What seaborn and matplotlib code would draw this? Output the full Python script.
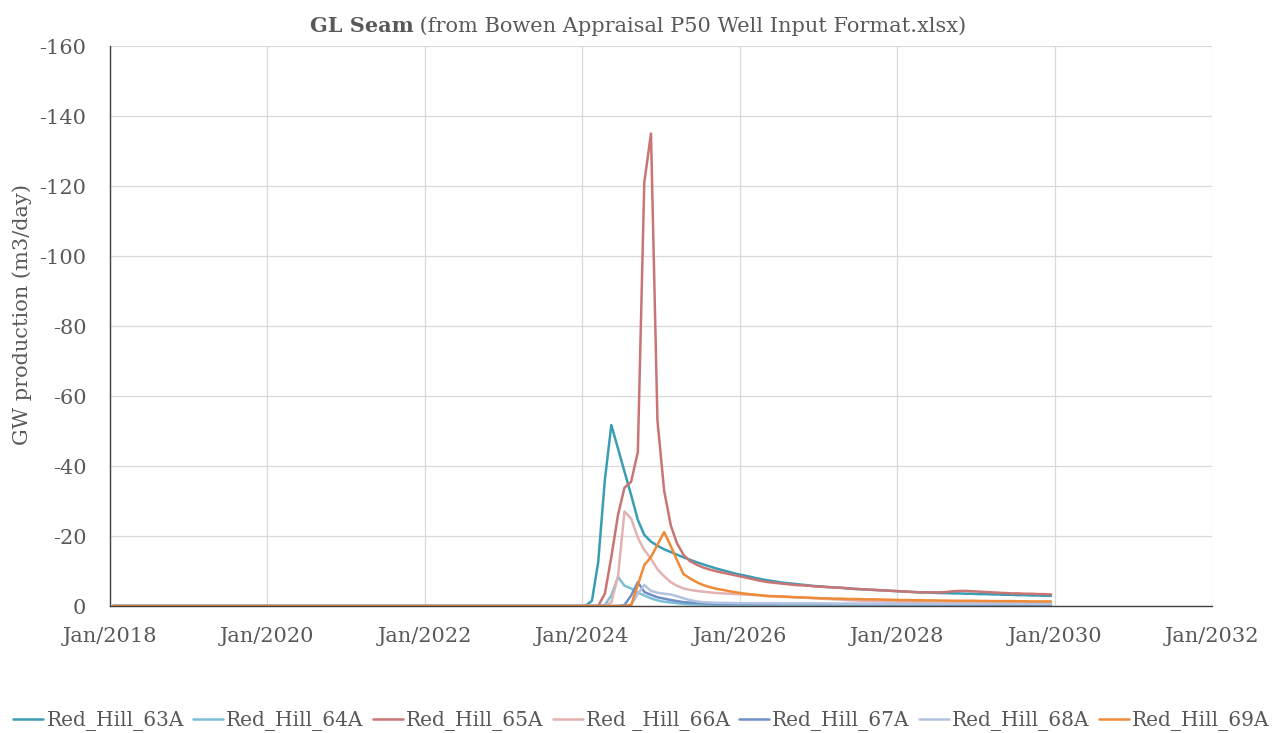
import matplotlib
matplotlib.use("Agg")
import matplotlib.pyplot as plt
import matplotlib.dates as mdates
import numpy as np
import pandas as pd
import seaborn as sns

# Monthly groundwater production (m3/day, negative = extraction), Jan 2024 - Dec 2029
wells = ["Red_Hill_63A", "Red_Hill_64A", "Red_Hill_65A", "Red _Hill_66A",
         "Red_Hill_67A", "Red_Hill_68A", "Red_Hill_69A"]

rh_63a = [0, 1.5, 12.5, 36, 51.7, 45, 38.4, 31.7, 24.6, 20.3, 18.4, 17.2,
          16.2, 15.4, 14.7, 13.9, 13.2, 12.5, 11.9, 11.3, 10.7, 10.2, 9.7, 9.2,
          8.8, 8.4, 8.0, 7.6, 7.3, 7.0, 6.7, 6.5, 6.3, 6.1, 5.9, 5.7,
          5.6, 5.4, 5.3, 5.2, 5.0, 4.9, 4.8, 4.7, 4.6, 4.5, 4.4, 4.3,
          4.2, 4.1, 4.0, 3.9, 3.9, 3.8, 3.7, 3.7, 3.6, 3.6, 3.5, 3.5,
          3.4, 3.4, 3.3, 3.3, 3.2, 3.2, 3.1, 3.1, 3.0, 3.0, 2.9, 2.9]

rh_64a = [0, 0, 0, 0.3, 3.0, 8.3, 5.8, 5.0, 3.8, 3.0, 2.2, 1.6,
          1.2, 1.0, 0.8, 0.6, 0.5, 0.45, 0.4, 0.4, 0.35, 0.35, 0.3, 0.3,
          0.3, 0.3, 0.3, 0.3, 0.3, 0.3, 0.3, 0.3, 0.3, 0.3, 0.3, 0.3,
          0.25, 0.25, 0.25, 0.25, 0.25, 0.25, 0.25, 0.25, 0.25, 0.25, 0.25, 0.25,
          0.2, 0.2, 0.2, 0.2, 0.2, 0.2, 0.2, 0.2, 0.2, 0.2, 0.2, 0.2,
          0.2, 0.2, 0.2, 0.2, 0.2, 0.2, 0.2, 0.2, 0.2, 0.2, 0.2, 0.2]

rh_65a = [0, 0, 0, 3.5, 14, 26, 33.8, 35.5, 44, 121, 135, 53,
          33, 23, 18, 14.6, 12.8, 11.8, 11.0, 10.4, 9.9, 9.5, 9.1, 8.7,
          8.3, 7.9, 7.5, 7.1, 6.8, 6.6, 6.4, 6.2, 6.0, 5.9, 5.8, 5.6,
          5.5, 5.4, 5.3, 5.2, 5.1, 4.9, 4.8, 4.7, 4.6, 4.5, 4.4, 4.3,
          4.2, 4.1, 4.0, 3.9, 3.9, 3.9, 3.9, 4.0, 4.2, 4.3, 4.3, 4.2,
          4.1, 4.0, 3.9, 3.8, 3.7, 3.6, 3.6, 3.5, 3.5, 3.4, 3.4, 3.3]

rh_66a = [0, 0, 0, 0, 1.0, 8.5, 27, 25, 19.5, 16, 13.5, 10.5,
          8.5, 6.8, 5.8, 5.0, 4.6, 4.3, 4.1, 3.9, 3.7, 3.6, 3.5, 3.4,
          3.3, 3.2, 3.1, 3.0, 2.9, 2.8, 2.7, 2.6, 2.5, 2.4, 2.3, 2.2,
          2.1, 2.0, 1.9, 1.8, 1.7, 1.6, 1.5, 1.5, 1.4, 1.4, 1.3, 1.3,
          1.2, 1.2, 1.1, 1.1, 1.1, 1.0, 1.0, 1.0, 1.0, 0.9, 0.9, 0.9,
          0.9, 0.9, 0.9, 0.8, 0.8, 0.8, 0.8, 0.8, 0.8, 0.8, 0.8, 0.8]

rh_67a = [0, 0, 0, 0, 0, 0, 0.3, 3.0, 6.8, 4.0, 3.2, 2.5,
          2.1, 1.7, 1.4, 1.1, 1.0, 0.9, 0.8, 0.75, 0.7, 0.7, 0.65, 0.65,
          0.6, 0.6, 0.6, 0.6, 0.6, 0.6, 0.6, 0.6, 0.6, 0.6, 0.6, 0.6,
          0.55, 0.55, 0.55, 0.55, 0.55, 0.55, 0.55, 0.55, 0.55, 0.55, 0.55, 0.55,
          0.5, 0.5, 0.5, 0.5, 0.5, 0.5, 0.5, 0.5, 0.5, 0.5, 0.5, 0.5,
          0.45, 0.45, 0.45, 0.45, 0.45, 0.45, 0.45, 0.45, 0.45, 0.45, 0.45, 0.45]

rh_68a = [0, 0, 0, 0, 0, 0, 0, 0.3, 3.5, 6.0, 4.3, 3.8,
          3.5, 3.3, 2.8, 2.2, 1.7, 1.3, 1.1, 1.0, 0.9, 0.9, 0.85, 0.8,
          0.8, 0.8, 0.75, 0.75, 0.75, 0.75, 0.7, 0.7, 0.7, 0.7, 0.7, 0.7,
          0.7, 0.7, 0.65, 0.65, 0.65, 0.65, 0.65, 0.65, 0.65, 0.65, 0.65, 0.65,
          0.6, 0.6, 0.6, 0.6, 0.6, 0.6, 0.6, 0.6, 0.6, 0.6, 0.6, 0.6,
          0.6, 0.6, 0.6, 0.6, 0.6, 0.6, 0.6, 0.6, 0.6, 0.6, 0.6, 0.6]

rh_69a = [0, 0, 0, 0, 0, 0, 0, 0.3, 6.0, 11.7, 14.0, 17.5,
          21.1, 17.1, 13.2, 9.1, 7.9, 6.8, 6.0, 5.4, 4.9, 4.6, 4.2, 3.9,
          3.6, 3.4, 3.2, 3.0, 2.8, 2.75, 2.7, 2.6, 2.5, 2.45, 2.4, 2.3,
          2.2, 2.2, 2.1, 2.1, 2.0, 2.0, 1.95, 1.9, 1.9, 1.85, 1.8, 1.75,
          1.7, 1.7, 1.65, 1.65, 1.6, 1.6, 1.55, 1.55, 1.5, 1.5, 1.5, 1.5,
          1.45, 1.45, 1.4, 1.4, 1.4, 1.4, 1.35, 1.35, 1.3, 1.3, 1.3, 1.3]

# No production before 2024 (Jan 2018 - Dec 2023)
pre_production = [0.0] * 72

colors = ["#3b9db3", "#7dbfd6", "#c97575", "#e3b3b3",
          "#6e8fc6", "#b2c2e0", "#ef8a36"]

series = [rh_63a, rh_64a, rh_65a, rh_66a, rh_67a, rh_68a, rh_69a]
dates = pd.date_range("2018-01-01", periods=144, freq="MS") + pd.Timedelta(days=14)

frames = []
for name, vals in zip(wells, series):
    prod = np.array(pre_production + vals, dtype=float)
    frames.append(pd.DataFrame({"date": dates, "prod": -prod, "well": name}))
df = pd.concat(frames, ignore_index=True)

sns.set_theme(style="white")
plt.rcParams["font.family"] = ["DejaVu Serif"]
plt.rcParams["axes.unicode_minus"] = False
text_color = "#595959"

fig = plt.figure(figsize=(12.83, 7.33), dpi=100)
ax = fig.add_axes([110 / 1283, 1 - 606 / 733, 1102 / 1283, 560 / 733])

sns.lineplot(data=df, x="date", y="prod", hue="well", hue_order=wells,
             palette=dict(zip(wells, colors)), estimator=None,
             linewidth=1.8, ax=ax)

ax.set_xlim(pd.Timestamp("2018-01-01"), pd.Timestamp("2032-01-01"))
ax.set_ylim(0, -160)
ax.set_yticks(np.arange(0, -161, -20))
ax.set_xticks([pd.Timestamp(f"{y}-01-01") for y in range(2018, 2033, 2)])
ax.xaxis.set_major_formatter(mdates.DateFormatter("Jan/%Y"))

ax.grid(True, color="#d9d9d9", linewidth=0.9)
ax.set_axisbelow(True)
for side in ["top", "right"]:
    ax.spines[side].set_visible(False)
for side in ["left", "bottom"]:
    ax.spines[side].set_color("#404040")
    ax.spines[side].set_linewidth(1.0)

ax.tick_params(axis="both", which="major", direction="out", length=6,
               width=1.0, color="#404040", labelsize=15, labelcolor=text_color)
ax.tick_params(axis="y", pad=11)
ax.tick_params(axis="x", pad=9)

ax.set_xlabel("")
ax.set_ylabel("GW production (m3/day)", fontsize=15, color=text_color)
ax.yaxis.set_label_coords(-0.071, 0.52)

handles, labels = ax.get_legend_handles_labels()
ax.get_legend().remove()
fig.legend(handles, labels, loc="center", bbox_to_anchor=(0.5, 1 - 721 / 733),
           ncol=7, frameon=False, fontsize=14.5, labelcolor=text_color,
           handlelength=1.5, handletextpad=0.15, columnspacing=0.45,
           borderpad=0.0)

# Title: bold seam name followed by the source note
fig.canvas.draw()
renderer = fig.canvas.get_renderer()
title_y = 1 - 26 / 733
t1 = fig.text(0, title_y, "GL Seam", fontsize=15, fontweight="bold",
              color=text_color, va="center", ha="left")
t2 = fig.text(0, title_y, " (from Bowen Appraisal P50 Well Input Format.xlsx)",
              fontsize=15, color=text_color, va="center", ha="left")
w1 = t1.get_window_extent(renderer).width
w2 = t2.get_window_extent(renderer).width
fig_w = fig.get_figwidth() * fig.dpi
start = 638 - (w1 + w2) / 2
t1.set_x(start / fig_w)
t2.set_x((start + w1) / fig_w)

fig.savefig("out.png", dpi=100)
